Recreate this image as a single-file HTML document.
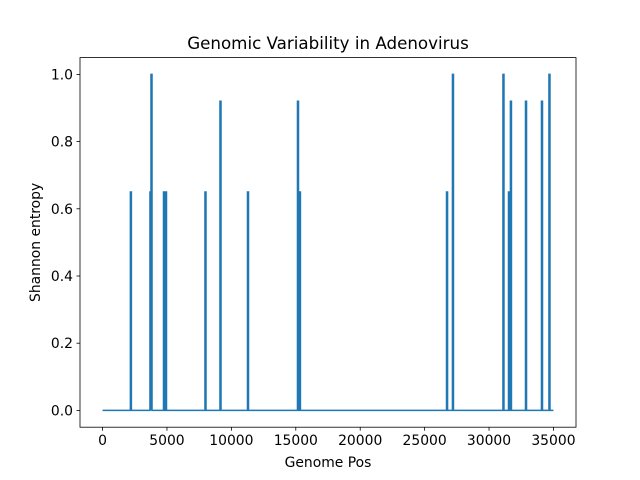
<!DOCTYPE html>
<html><head><meta charset="utf-8"><style>
html,body{margin:0;padding:0;background:#fff;}
svg{display:block;font-family:"DejaVu Sans","Liberation Sans",sans-serif;}
</style></head><body>
<svg id="chart" width="640" height="480" xmlns="http://www.w3.org/2000/svg">
<rect width="640" height="480" fill="#fff"/>
<text x="328" y="49" text-anchor="middle" font-size="16.7">Genomic Variability in Adenovirus</text>
<g id="plot"></g>
<rect x="80" y="57.6" width="496" height="369.6" fill="none" stroke="#000" stroke-width="0.8"/>
<g id="xticks"></g>
<g id="yticks"></g>
<text x="328" y="467" text-anchor="middle" font-size="13.9">Genome Pos</text>
<text transform="translate(40,242.4) rotate(-90)" text-anchor="middle" font-size="13.9">Shannon entropy</text>
</svg>
<script>
const spikePositions=[2200,3720,3800,4770,4925,7990,9155,11290,15170,15320,26740,27200,31120,31550,31700,32870,34110,34690];
const spikeValues=[0.65,0.65,1.0,0.65,0.65,0.65,0.92,0.65,0.92,0.65,0.65,1.0,1.0,0.65,0.92,0.92,0.92,1.0];
const genomeLength=35000;
const xTickValues=[0,5000,10000,15000,20000,25000,30000,35000];
const yTickValues=[0,0.2,0.4,0.6,0.8,1.0];
const yTickLabels=["0.0","0.2","0.4","0.6","0.8","1.0"];

const NS="http://www.w3.org/2000/svg";
const xmin=-0.05*genomeLength,xmax=1.05*genomeLength;
const X=v=>80+(v-xmin)/(xmax-xmin)*496;
const Y=v=>427.2-(v+0.05)/1.1*369.6;
function mk(tag,attrs,parent){const e=document.createElementNS(NS,tag);for(const k in attrs)e.setAttribute(k,attrs[k]);parent.appendChild(e);return e;}

let pts=[[0,0]];
spikePositions.forEach((p,i)=>{pts.push([p-40,0],[p-40,spikeValues[i]],[p+40,spikeValues[i]],[p+40,0]);});
pts.push([genomeLength,0]);
const d=pts.map((q,i)=>(i?'L':'M')+X(q[0]).toFixed(2)+','+Y(q[1]).toFixed(2)).join(' ');
const line=mk('path',{d:d,fill:'none',stroke:'#1f77b4','stroke-width':1.5,'stroke-linejoin':'miter'},document.getElementById('plot'));



const xg=document.getElementById('xticks');
xTickValues.forEach(v=>{
  const x=X(v);
  const t=mk('line',{x1:x,x2:x,y1:427.2,y2:430.7,stroke:'#000','stroke-width':0.8},xg);
  
  
  const l=mk('text',{x:x,y:445,'text-anchor':'middle','font-size':13.9},xg);
  l.textContent=String(v);
  
  
});
const yg=document.getElementById('yticks');
yTickValues.forEach((v,i)=>{
  const y=Y(v);
  const t=mk('line',{x1:76.5,x2:80,y1:y,y2:y,stroke:'#000','stroke-width':0.8},yg);
  
  
  const l=mk('text',{x:73,y:y+5,'text-anchor':'end','font-size':13.9},yg);
  l.textContent=yTickLabels[i];
  
  
});
</script>
</body></html>
